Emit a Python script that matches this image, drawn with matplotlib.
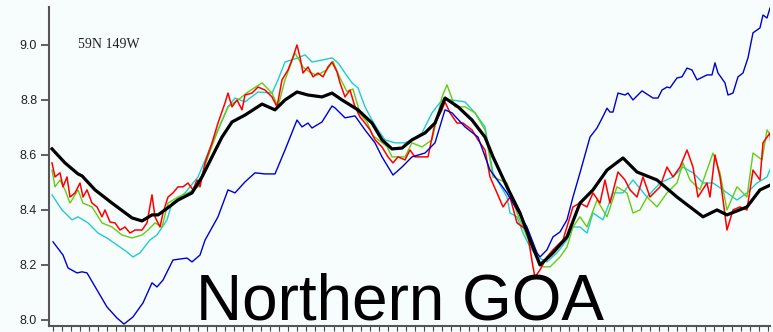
import matplotlib
matplotlib.use("Agg")
import matplotlib.pyplot as plt
import numpy as np

# day index along the record, and temperature (deg C) at 59N 149W
black_day = [3, 16, 29, 33, 46, 63, 83, 93, 103, 109, 116, 129, 143, 153, 163, 173, 183, 196,
             213, 226, 236, 248, 259, 273, 283, 293, 309, 323, 333, 343, 353, 363, 376, 386, 396,
             409, 423, 436, 444, 458, 471, 481, 491, 504, 518, 531, 544, 558, 574, 588, 608, 628,
             641, 654, 668, 678, 698, 711, 721]
black_temp = [8.622, 8.571, 8.531, 8.524, 8.473, 8.425, 8.371, 8.36, 8.382, 8.382, 8.40, 8.436,
              8.462, 8.52, 8.593, 8.665, 8.72, 8.745, 8.785, 8.764, 8.80, 8.829, 8.818, 8.811,
              8.825, 8.80, 8.764, 8.716, 8.655, 8.622, 8.625, 8.655, 8.68, 8.716, 8.807, 8.775,
              8.727, 8.665, 8.593, 8.484, 8.389, 8.291, 8.20, 8.244, 8.302, 8.425, 8.473, 8.545,
              8.589, 8.538, 8.509, 8.447, 8.411, 8.375, 8.40, 8.382, 8.411, 8.473, 8.49]

blue_day = [4, 14, 19, 28, 33, 38, 48, 58, 68, 75, 84, 94, 103, 108, 114, 124, 138, 143, 151,
            156, 169, 179, 186, 196, 206, 216, 226, 236, 248, 253, 259, 263, 273, 283, 286, 296,
            306, 316, 326, 333, 344, 353, 363, 376, 386, 396, 403, 416, 429, 441, 458, 478, 488,
            491, 498, 504, 511, 518, 524, 531, 541, 548, 554, 558, 561, 564, 569, 576, 579, 584,
            593, 604, 609, 613, 618, 621, 628, 633, 638, 643, 648, 658, 663, 666, 669, 676, 679,
            684, 689, 694, 699, 704, 711, 714, 718, 721]
blue_temp = [8.284, 8.236, 8.189, 8.171, 8.175, 8.171, 8.109, 8.047, 8.007, 7.985, 8.011, 8.062,
             8.135, 8.12, 8.145, 8.218, 8.225, 8.211, 8.236, 8.29, 8.375, 8.473, 8.462, 8.502,
             8.535, 8.531, 8.531, 8.618, 8.727, 8.702, 8.716, 8.698, 8.72, 8.778, 8.771, 8.735,
             8.742, 8.691, 8.644, 8.593, 8.527, 8.556, 8.593, 8.607, 8.644, 8.764, 8.753, 8.702,
             8.665, 8.545, 8.462, 8.338, 8.244, 8.229, 8.255, 8.302, 8.32, 8.364, 8.447, 8.535,
             8.665, 8.698, 8.74, 8.77, 8.756, 8.756, 8.825, 8.818, 8.825, 8.80, 8.833, 8.807,
             8.807, 8.836, 8.847, 8.844, 8.88, 8.884, 8.916, 8.909, 8.873, 8.891, 8.891, 8.935,
             8.898, 8.862, 8.818, 8.825, 8.884, 8.898, 8.953, 9.044, 9.062, 9.109, 9.098, 9.134]

cyan_day = [3, 13, 23, 29, 39, 49, 58, 71, 78, 84, 91, 101, 108, 118, 123, 136, 149, 159, 169,
            179, 186, 196, 209, 223, 229, 236, 249, 256, 263, 273, 283, 289, 296, 303, 309, 316,
            323, 329, 336, 346, 356, 363, 373, 383, 393, 403, 416, 426, 436, 444, 458, 461, 468,
            474, 481, 488, 498, 508, 518, 524, 531, 538, 544, 554, 564, 574, 584, 598, 611, 624,
            634, 644, 654, 664, 674, 688, 698, 708, 718, 723]
cyan_temp = [8.455, 8.40, 8.364, 8.375, 8.353, 8.316, 8.298, 8.265, 8.247, 8.229, 8.244, 8.291,
             8.309, 8.364, 8.425, 8.462, 8.52, 8.607, 8.691, 8.775, 8.807, 8.793, 8.829, 8.825,
             8.873, 8.938, 8.953, 8.964, 8.938, 8.945, 8.953, 8.935, 8.898, 8.862, 8.844, 8.775,
             8.727, 8.691, 8.655, 8.644, 8.644, 8.655, 8.68, 8.753, 8.80, 8.80, 8.793, 8.753,
             8.702, 8.535, 8.447, 8.389, 8.375, 8.316, 8.265, 8.229, 8.211, 8.244, 8.291, 8.338,
             8.338, 8.316, 8.389, 8.364, 8.462, 8.462, 8.509, 8.447, 8.498, 8.52, 8.556, 8.535,
             8.498, 8.498, 8.473, 8.436, 8.462, 8.498, 8.52, 8.564]

green_day = [3, 6, 11, 16, 21, 29, 34, 43, 53, 63, 73, 83, 93, 99, 106, 113, 119, 129, 139, 149,
             159, 169, 179, 189, 199, 213, 223, 229, 236, 246, 254, 261, 268, 278, 284, 291, 298,
             304, 311, 318, 324, 338, 343, 356, 363, 373, 383, 393, 398, 406, 416, 426, 436, 444,
             458, 468, 478, 488, 494, 501, 511, 518, 524, 531, 538, 548, 558, 568, 578, 584, 591,
             598, 608, 618, 628, 634, 641, 651, 664, 671, 678, 688, 698, 704, 713, 718, 723]
green_temp = [8.545, 8.484, 8.509, 8.473, 8.425, 8.473, 8.425, 8.411, 8.353, 8.338, 8.309,
              8.298, 8.309, 8.327, 8.353, 8.338, 8.425, 8.447, 8.462, 8.484, 8.593, 8.691, 8.775,
              8.80, 8.829, 8.862, 8.825, 8.775, 8.873, 8.971, 8.92, 8.90, 8.89, 8.91, 8.94, 8.88,
              8.83, 8.84, 8.75, 8.72, 8.67, 8.63, 8.593, 8.593, 8.644, 8.629, 8.655, 8.811, 8.855,
              8.775, 8.775, 8.753, 8.691, 8.52, 8.498, 8.389, 8.302, 8.229, 8.193, 8.193, 8.229,
              8.265, 8.338, 8.375, 8.338, 8.436, 8.375, 8.484, 8.462, 8.389, 8.40, 8.447, 8.411,
              8.462, 8.498, 8.571, 8.509, 8.473, 8.607, 8.535, 8.40, 8.484, 8.447, 8.607, 8.582,
              8.691, 8.665]

red_day = [3, 6, 11, 14, 18, 21, 26, 31, 34, 38, 43, 48, 53, 56, 61, 66, 71, 76, 81, 86, 93,
           98, 103, 106, 111, 114, 119, 124, 129, 134, 139, 144, 148, 151, 156, 163, 169, 176,
           179, 183, 188, 193, 196, 203, 209, 216, 223, 228, 233, 239, 244, 248, 251, 254, 259,
           264, 269, 274, 279, 283, 288, 291, 296, 301, 306, 311, 316, 321, 326, 333, 339, 344,
           349, 356, 361, 366, 373, 379, 386, 393, 396, 401, 408, 414, 423, 429, 436, 441, 448,
           454, 461, 468, 478, 484, 486, 491, 498, 504, 514, 524, 531, 538, 544, 551, 556, 561,
           569, 576, 581, 588, 594, 601, 611, 618, 624, 631, 638, 644, 649, 658, 661, 666, 671,
           678, 684, 691, 698, 704, 711, 714, 721, 724]
red_temp = [8.571, 8.52, 8.535, 8.484, 8.52, 8.447, 8.462, 8.498, 8.447, 8.473, 8.425, 8.411,
            8.375, 8.40, 8.356, 8.353, 8.327, 8.338, 8.316, 8.327, 8.327, 8.353, 8.455, 8.375,
            8.338, 8.389, 8.447, 8.462, 8.484, 8.484, 8.498, 8.473, 8.509, 8.484, 8.571, 8.644,
            8.716, 8.789, 8.825, 8.775, 8.80, 8.764, 8.818, 8.825, 8.847, 8.836, 8.811, 8.775,
            8.873, 8.909, 8.956, 9.0, 8.956, 8.898, 8.92, 8.884, 8.898, 8.884, 8.92, 8.938,
            8.902, 8.862, 8.811, 8.836, 8.775, 8.738, 8.716, 8.691, 8.655, 8.629, 8.593, 8.571,
            8.593, 8.582, 8.618, 8.593, 8.593, 8.593, 8.716, 8.764, 8.793, 8.753, 8.716, 8.716,
            8.691, 8.655, 8.618, 8.52, 8.462, 8.411, 8.447, 8.353, 8.327, 8.193, 8.156, 8.182,
            8.229, 8.255, 8.291, 8.411, 8.425, 8.411, 8.462, 8.425, 8.509, 8.425, 8.538, 8.509,
            8.473, 8.447, 8.52, 8.447, 8.484, 8.556, 8.52, 8.556, 8.618, 8.556, 8.447, 8.498,
            8.447, 8.60, 8.52, 8.327, 8.40, 8.411, 8.40, 8.545, 8.509, 8.644, 8.68, 8.545]

y_ticks = [8.0, 8.2, 8.4, 8.6, 8.8, 9.0]

bg = "#f7fcfd"
fig = plt.figure(figsize=(7.73, 3.32), dpi=100, facecolor=bg)
ax = fig.add_axes([0.0634, 0.0181, 0.9327, 0.9608], facecolor=bg)

ax.plot(cyan_day, cyan_temp, color="#22cccc", lw=1.0)
ax.plot(green_day, green_temp, color="#66cc11", lw=1.0)
ax.plot(red_day, red_temp, color="#ff0000", lw=1.1)
ax.plot(blue_day, blue_temp, color="#0000cc", lw=1.0)
ax.plot(black_day, black_temp, color="black", lw=2.3, solid_joinstyle="round")

ax.set_xlim(0, 721)
ax.set_ylim(7.978, 9.138)
ax.set_yticks(y_ticks)
ax.set_yticklabels(["%.1f" % t for t in y_ticks], family="Liberation Sans",
                   fontsize=9, color="#222222")
ax.set_xticks(np.arange(4, 720, 9.05))
ax.set_xticklabels([])

for side in ("top", "right"):
    ax.spines[side].set_visible(False)
for side in ("left", "bottom"):
    ax.spines[side].set_color("#555555")
    ax.spines[side].set_linewidth(1.5)
ax.tick_params(axis="y", length=5.5, width=1.2, color="#444444", pad=3)
ax.tick_params(axis="x", length=3.5, width=0.8, color="#444444")

ax.text(29, 9.0, "59N 149W", family="Liberation Serif", fontsize=10,
        va="center", ha="left", color="#222222")
fig.text(400 / 773, 12 / 332, "Northern GOA", family="Liberation Sans",
         fontsize=46, ha="center", va="baseline", color="black")

fig.savefig("out.png", dpi=100, facecolor=bg)
